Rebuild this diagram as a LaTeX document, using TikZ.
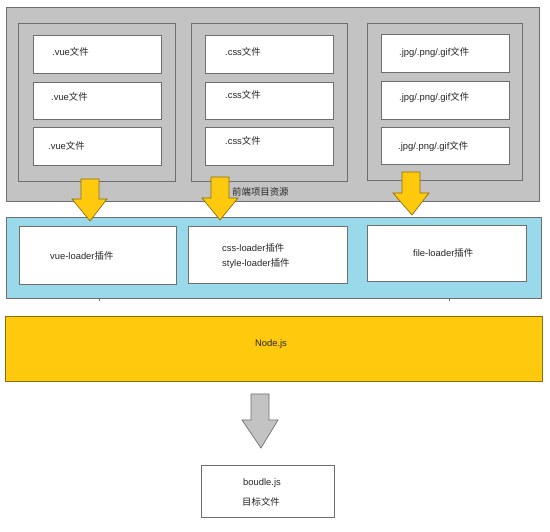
\documentclass[tikz,border=0pt]{standalone}
\usepackage{fontspec}
\setmainfont{Liberation Sans}
\newfontfamily\cjkf{Noto Sans CJK SC}
\newcommand{\zh}[1]{{\cjkf #1}}
\definecolor{bggray}{HTML}{C3C3C3}
\definecolor{edgegray}{HTML}{6E6E6E}
\definecolor{bandblue}{HTML}{99D9EA}
\definecolor{gold}{HTML}{FFC90E}
\definecolor{goldedge}{HTML}{8A6E10}
\definecolor{txt}{HTML}{262626}
\tikzset{
  x=1pt, y=-1pt,
  panel/.style={draw=edgegray, line width=0.9pt, fill=bggray, anchor=north west, inner sep=0pt},
  wbox/.style={draw=edgegray, line width=0.9pt, fill=white, anchor=north west, inner sep=0pt},
  blueband/.style={draw=edgegray, line width=0.9pt, fill=bandblue, anchor=north west, inner sep=0pt},
  goldband/.style={draw=goldedge, line width=0.9pt, fill=gold, anchor=north west, inner sep=0pt},
  lbl/.style={font=\fontsize{9.4}{10}\selectfont, text=txt, inner sep=0pt, anchor=west},
  clbl/.style={font=\fontsize{9.4}{10}\selectfont, text=txt, inner sep=0pt},
  goldarrow/.style={draw=goldedge, line width=0.7pt, fill=gold, line join=miter},
  grayarrow/.style={draw=edgegray, line width=0.7pt, fill=bggray, line join=miter}
}
\begin{document}
\begin{tikzpicture}
\useasboundingbox (0,0) rectangle (550,532);
% front-end resources panel
\node[panel, minimum width=533pt, minimum height=194pt] (res) at (6,7) {};
\node[panel, minimum width=157pt, minimum height=158pt] (colA) at (18,23) {};
\node[panel, minimum width=156pt, minimum height=158pt] (colB) at (191,23) {};
\node[panel, minimum width=155pt, minimum height=157pt] (colC) at (367,23) {};
% file boxes
\node[wbox, minimum width=128pt, minimum height=38pt] (a1) at (33,35) {};
\node[wbox, minimum width=128pt, minimum height=37pt] (a2) at (33,82) {};
\node[wbox, minimum width=128pt, minimum height=38pt] (a3) at (33,127) {};
\node[wbox, minimum width=128pt, minimum height=38pt] (b1) at (205,35) {};
\node[wbox, minimum width=128pt, minimum height=37pt] (b2) at (205,82) {};
\node[wbox, minimum width=128pt, minimum height=38pt] (b3) at (205,127) {};
\node[wbox, minimum width=128pt, minimum height=38pt] (c1) at (381,34) {};
\node[wbox, minimum width=128pt, minimum height=38pt] (c2) at (381,81) {};
\node[wbox, minimum width=128pt, minimum height=37pt] (c3) at (381,127) {};
\node[lbl] (ta1) at (52,52) {.vue\zh{文件}};
\node[lbl] (ta2) at (51,97) {.vue\zh{文件}};
\node[lbl] (ta3) at (48,146) {.vue\zh{文件}};
\node[lbl] (tb1) at (225,52) {.css\zh{文件}};
\node[lbl] (tb2) at (225,95) {.css\zh{文件}};
\node[lbl] (tb3) at (225,141) {.css\zh{文件}};
\node[lbl] (tc1) at (399,52) {.jpg/.png/.gif\zh{文件}};
\node[lbl] (tc2) at (399,97) {.jpg/.png/.gif\zh{文件}};
\node[lbl] (tc3) at (398,146) {.jpg/.png/.gif\zh{文件}};
\node[lbl] (tres) at (232,192) {\zh{前端项目资源}};
% loader band
\node[blueband, minimum width=535pt, minimum height=81pt] (band) at (6,217) {};
\node[wbox, minimum width=157pt, minimum height=58pt] (l1) at (19,226) {};
\node[wbox, minimum width=159pt, minimum height=57pt] (l2) at (188,226) {};
\node[wbox, minimum width=159pt, minimum height=56pt] (l3) at (367,225) {};
\node[lbl] (tl1) at (50,256) {vue-loader\zh{插件}};
\node[lbl] (tl2a) at (222,248) {css-loader\zh{插件}};
\node[lbl] (tl2b) at (222,264) {style-loader\zh{插件}};
\node[lbl] (tl3) at (413,253) {file-loader\zh{插件}};
% small stubs below band
\coordinate (s1) at (99,301);
\coordinate (s2) at (449,301);
\draw[edgegray, line width=0.8pt] (band.south -| s1) -- (s1);
\draw[edgegray, line width=0.8pt] (band.south -| s2) -- (s2);
% Node.js band
\node[goldband, minimum width=537pt, minimum height=65pt] (node) at (5,316) {};
\node[clbl] (tnode) at (271,344) {Node.js};
% output
\node[wbox, minimum width=133pt, minimum height=52pt] (out) at (201,465) {};
\node[clbl] (tout1) at (262,483) {boudle.js};
\node[clbl] (tout2) at (261,502) {\zh{目标文件}};
% block arrows
\draw[goldarrow] (81,179) -- (99,179) -- (99,199) -- (107,199) -- (90,221) -- (72,199) -- (81,199) -- cycle;
\draw[goldarrow] (211,177) -- (229,177) -- (229,198) -- (238,198) -- (220,220) -- (202,198) -- (211,198) -- cycle;
\draw[goldarrow] (402,172) -- (420,172) -- (420,193) -- (429,193) -- (412,215) -- (393,193) -- (402,193) -- cycle;
\draw[grayarrow] (251,394) -- (269,394) -- (269,420) -- (278,420) -- (261,448) -- (242,420) -- (251,420) -- cycle;
\end{tikzpicture}
\end{document}
